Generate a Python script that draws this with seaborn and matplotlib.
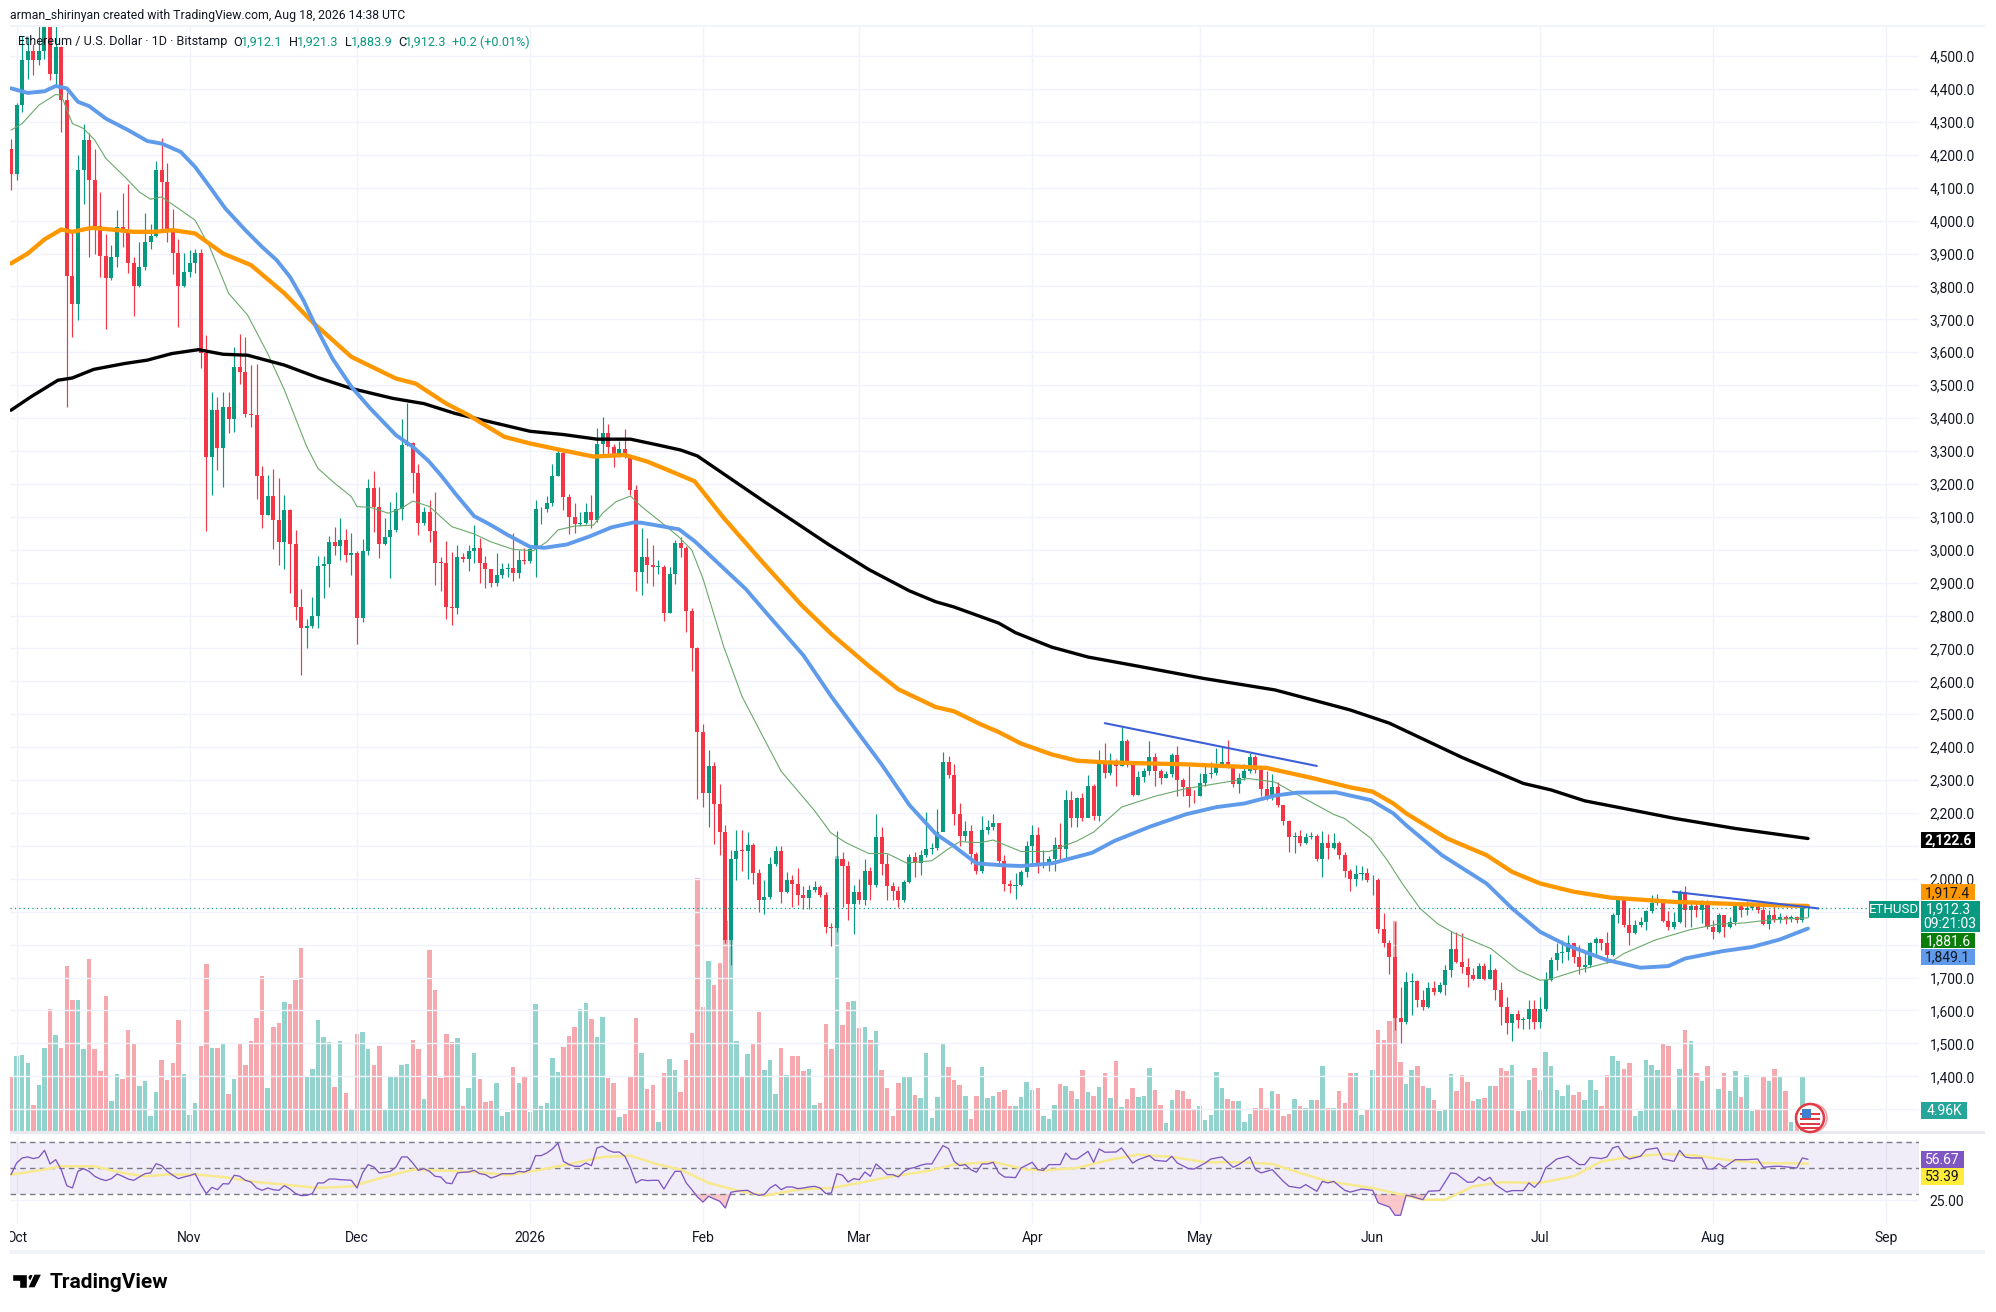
import matplotlib
matplotlib.use("Agg")
import matplotlib.pyplot as plt
from matplotlib.patches import Rectangle, Circle, Polygon
import numpy as np
import pandas as pd
import seaborn as sns

W, H = 1996, 1312

FIRST_OPEN = 4217
# daily candles, first one is Sep 30 (day -1), one row = 10 bars
closes = [
    4143, 4351, 4488, 4515, 4488, 4515, 4610, 4445, 4528, 4366,
    3831, 3746, 4155, 4245, 4123, 3983, 3892, 3827, 3888, 3981,
    3966, 3870, 3801, 3860, 3934, 3953, 4155, 4118, 3976, 3903,
    3801, 3844, 3870, 3903, 3598, 3283, 3425, 3308, 3434, 3396,
    3556, 3540, 3412, 3410, 3224, 3106, 3163, 3090, 3024, 3121,
    3017, 2827, 2761, 2768, 2799, 2950, 2957, 3024, 3012, 3030,
    2984, 2989, 2794, 2996, 3187, 3131, 3017, 3038, 3060, 3123,
    3318, 3325, 3234, 3082, 3116, 3058, 2961, 2960, 2827, 2822,
    2977, 2973, 2997, 3004, 2961, 2943, 2898, 2923, 2943, 2945,
    2930, 2969, 2965, 3001, 3123, 3123, 3141, 3224, 3295, 3161,
    3100, 3078, 3080, 3116, 3090, 3321, 3354, 3313, 3288, 3305,
    3281, 3181, 2933, 2977, 2954, 2948, 2948, 2809, 2926, 3021,
    3004, 2815, 2700, 2446, 2262, 2343, 2226, 2142, 1815, 2061,
    2086, 2085, 2104, 2017, 1936, 1945, 2044, 2086, 1960, 1996,
    1985, 1952, 1941, 1966, 1974, 1952, 1855, 1850, 2061, 2040,
    1925, 1960, 1936, 2023, 1982, 2126, 2044, 1979, 1963, 1936,
    1990, 2066, 2048, 2072, 2090, 2093, 2142, 2354, 2316, 2196,
    2131, 2144, 2077, 2023, 2148, 2158, 2169, 2055, 1985, 1979,
    1982, 2021, 2099, 2134, 2039, 2044, 2061, 2104, 2090, 2240,
    2186, 2245, 2186, 2283, 2191, 2359, 2321, 2359, 2343, 2419,
    2348, 2256, 2310, 2327, 2370, 2327, 2305, 2319, 2375, 2299,
    2278, 2253, 2251, 2292, 2318, 2321, 2348, 2354, 2343, 2289,
    2305, 2327, 2370, 2332, 2272, 2245, 2278, 2223, 2175, 2126,
    2129, 2110, 2126, 2131, 2061, 2110, 2093, 2110, 2072, 2023,
    2001, 2016, 2018, 1996, 1998, 1849, 1804, 1763, 1576, 1564,
    1687, 1690, 1633, 1611, 1667, 1657, 1677, 1723, 1788, 1748,
    1733, 1707, 1697, 1735, 1697, 1723, 1662, 1611, 1561, 1588,
    1570, 1574, 1606, 1566, 1606, 1692, 1753, 1775, 1778, 1804,
    1763, 1731, 1738, 1804, 1817, 1804, 1768, 1890, 1940, 1859,
    1834, 1859, 1869, 1902, 1927, 1929, 1873, 1854, 1869, 1961,
    1905, 1917, 1905, 1930, 1854, 1839, 1890, 1854, 1869, 1920,
    1906, 1910, 1920, 1905, 1864, 1890, 1875, 1883, 1878, 1883,
    1875, 1912.1, 1912.3,
]
highs = [
    4247, 4356, 4560, 4558, 4538, 4590, 4660, 4640, 4600, 4530,
    4390, 3970, 4199, 4295, 4265, 4217, 4087, 3960, 3925, 4032,
    4085, 4111, 3890, 3935, 4022, 3990, 4180, 4250, 4174, 4034,
    3945, 3903, 3910, 3915, 3915, 3652, 3480, 3465, 3480, 3480,
    3617, 3657, 3645, 3561, 3564, 3255, 3227, 3245, 3218, 3166,
    3125, 3060, 2881, 2790, 2857, 2981, 2981, 3042, 3070, 3097,
    3062, 3050, 2995, 3032, 3214, 3239, 3192, 3095, 3146, 3176,
    3396, 3447, 3328, 3262, 3130, 3150, 3174, 2979, 3027, 2992,
    3014, 2990, 3014, 3075, 3035, 2980, 2920, 2989, 2959, 2960,
    3050, 2999, 3004, 3009, 3151, 3131, 3163, 3262, 3305, 3300,
    3170, 3141, 3116, 3143, 3166, 3371, 3404, 3382, 3320, 3331,
    3366, 3285, 3197, 3065, 3035, 3014, 2970, 2953, 2948, 3030,
    3040, 3010, 2822, 2705, 2470, 2390, 2354, 2289, 2164, 2088,
    2148, 2148, 2142, 2110, 2030, 1996, 2066, 2101, 2099, 2021,
    2012, 2034, 1979, 1982, 1992, 1980, 1960, 1865, 2145, 2082,
    2055, 1982, 2000, 2061, 2035, 2196, 2158, 2077, 1990, 1979,
    1996, 2077, 2082, 2088, 2202, 2110, 2213, 2384, 2373, 2348,
    2229, 2175, 2164, 2082, 2191, 2180, 2196, 2166, 2072, 1996,
    2017, 2028, 2115, 2164, 2158, 2088, 2070, 2126, 2169, 2270,
    2267, 2250, 2261, 2316, 2289, 2392, 2413, 2381, 2365, 2462,
    2424, 2354, 2327, 2337, 2419, 2381, 2335, 2327, 2381, 2403,
    2305, 2343, 2270, 2321, 2348, 2354, 2397, 2403, 2422, 2348,
    2321, 2348, 2383, 2375, 2343, 2327, 2318, 2294, 2223, 2180,
    2142, 2148, 2140, 2142, 2137, 2144, 2137, 2140, 2115, 2082,
    2029, 2041, 2039, 2032, 2012, 2003, 1895, 1815, 1870, 1672,
    1716, 1715, 1692, 1662, 1687, 1689, 1687, 1738, 1842, 1839,
    1834, 1758, 1728, 1745, 1743, 1773, 1728, 1687, 1642, 1590,
    1601, 1581, 1631, 1631, 1642, 1717, 1763, 1804, 1814, 1829,
    1804, 1799, 1778, 1809, 1824, 1815, 1839, 1895, 1945, 1930,
    1910, 1875, 1885, 1905, 1950, 1954, 1940, 1902, 1900, 1966,
    1978, 1930, 1933, 1935, 1935, 1875, 1895, 1890, 1885, 1925,
    1913, 1933, 1927, 1930, 1930, 1905, 1923, 1895, 1890, 1890,
    1887, 1915, 1921.3,
]
lows = [
    4093, 4123, 4330, 4430, 4442, 4472, 4490, 4427, 4412, 4270,
    3434, 3647, 3697, 4050, 3890, 3900, 3829, 3672, 3821, 3860,
    3920, 3841, 3710, 3797, 3850, 3915, 3950, 3970, 3935, 3837,
    3677, 3797, 3830, 3840, 3551, 3058, 3166, 3242, 3192, 3356,
    3359, 3505, 3404, 3372, 3153, 3067, 3106, 3002, 2954, 2943,
    2869, 2786, 2619, 2700, 2761, 2761, 2854, 2888, 2984, 2970,
    2964, 2923, 2713, 2781, 2984, 3055, 2974, 3014, 2913, 3055,
    3090, 3315, 3171, 3045, 3075, 3024, 2893, 2876, 2789, 2771,
    2805, 2964, 2936, 2960, 2898, 2883, 2888, 2891, 2913, 2918,
    2906, 2915, 2956, 2959, 2918, 3078, 3116, 3133, 3224, 3121,
    3048, 3050, 3072, 3078, 3065, 3085, 3281, 3281, 3252, 3283,
    3278, 3166, 2876, 2864, 2900, 2890, 2925, 2784, 2809, 2896,
    2979, 2751, 2632, 2244, 2218, 2158, 2107, 2072, 1806, 1738,
    1996, 2023, 2001, 1985, 1898, 1893, 1940, 2039, 1927, 1958,
    1914, 1920, 1909, 1909, 1960, 1945, 1836, 1797, 1838, 1915,
    1876, 1833, 1925, 1920, 1936, 1974, 2012, 1936, 1936, 1914,
    1931, 1988, 2007, 2012, 2066, 2077, 2088, 2169, 2305, 2164,
    2099, 2115, 2044, 2015, 2017, 2137, 2148, 2044, 1963, 1958,
    1938, 1977, 2007, 2039, 2017, 2034, 2023, 2023, 2061, 2061,
    2158, 2158, 2175, 2240, 2180, 2175, 2305, 2316, 2283, 2343,
    2340, 2251, 2256, 2294, 2316, 2283, 2289, 2305, 2310, 2251,
    2251, 2218, 2229, 2253, 2283, 2305, 2316, 2343, 2337, 2278,
    2261, 2299, 2321, 2321, 2251, 2240, 2240, 2218, 2164, 2083,
    2079, 2100, 2105, 2120, 2055, 2007, 2061, 2090, 2061, 2007,
    1964, 1978, 1998, 1991, 1950, 1834, 1793, 1712, 1540, 1500,
    1560, 1586, 1611, 1601, 1608, 1647, 1652, 1647, 1702, 1743,
    1713, 1670, 1692, 1702, 1694, 1697, 1633, 1555, 1530, 1508,
    1548, 1545, 1545, 1545, 1548, 1599, 1690, 1723, 1743, 1753,
    1743, 1710, 1717, 1733, 1773, 1783, 1743, 1765, 1865, 1854,
    1799, 1832, 1854, 1844, 1897, 1920, 1870, 1844, 1849, 1866,
    1854, 1854, 1885, 1865, 1849, 1816, 1835, 1822, 1850, 1860,
    1885, 1890, 1905, 1895, 1860, 1849, 1868, 1865, 1862, 1870,
    1865, 1868, 1883.9,
]
# read as bar height on the chart, last one is the 4.96K label
volumes = [
    164, 228, 231, 206, 81, 141, 252, 369, 291, 252,
    498, 396, 396, 249, 519, 249, 183, 408, 93, 174,
    159, 306, 264, 138, 153, 48, 120, 216, 156, 207,
    336, 174, 51, 87, 258, 504, 252, 252, 264, 114,
    159, 267, 201, 273, 342, 468, 132, 315, 327, 390,
    384, 456, 552, 165, 189, 336, 285, 270, 135, 273,
    117, 69, 294, 300, 249, 201, 258, 69, 165, 168,
    201, 204, 276, 249, 99, 546, 426, 162, 294, 270,
    282, 78, 132, 237, 159, 90, 93, 147, 48, 60,
    195, 147, 168, 60, 384, 78, 87, 222, 180, 255,
    288, 315, 369, 387, 339, 285, 345, 162, 147, 45,
    54, 168, 342, 237, 129, 141, 30, 177, 219, 186,
    120, 216, 297, 762, 375, 513, 441, 507, 633, 596,
    273, 168, 234, 267, 360, 186, 216, 114, 252, 171,
    228, 228, 183, 189, 81, 87, 324, 249, 828, 321,
    390, 393, 312, 315, 276, 303, 186, 132, 48, 147,
    165, 165, 111, 102, 237, 42, 105, 267, 195, 156,
    141, 108, 39, 108, 195, 102, 108, 120, 126, 78,
    78, 106, 151, 126, 131, 48, 38, 81, 144, 138,
    123, 99, 186, 120, 108, 135, 177, 102, 213, 76,
    99, 133, 106, 108, 192, 126, 81, 28, 96, 126,
    123, 99, 68, 78, 36, 51, 180, 132, 99, 93,
    93, 30, 54, 72, 132, 72, 123, 114, 48, 54,
    99, 78, 72, 96, 96, 198, 72, 72, 123, 88,
    178, 178, 51, 66, 186, 306, 276, 334, 634, 209,
    145, 187, 199, 137, 132, 97, 64, 65, 175, 122,
    172, 149, 92, 99, 102, 139, 139, 192, 182, 202,
    62, 62, 157, 192, 125, 239, 199, 125, 107, 142,
    112, 119, 97, 157, 127, 79, 172, 229, 212, 189,
    207, 49, 62, 217, 202, 187, 265, 257, 69, 189,
    307, 272, 177, 152, 199, 69, 129, 177, 122, 184,
    105, 172, 62, 65, 167, 152, 189, 169, 122, 30,
    57, 164, 63,
]

ma200_days = [-1, 2.6, 7.4, 10, 13.8, 19.4, 23.4, 27.8, 32.6, 37, 41.4, 48, 54, 60, 67.4, 73, 78.6, 85, 92, 98, 104, 110,
              115, 119, 122, 127, 134, 145.5, 152.7, 160, 164.7, 168, 176, 179, 185.5, 192, 200.7, 212.7, 225.5, 233.5,
              239, 246, 259, 270, 275, 281, 288, 297, 308, 321]
ma200 = [3424, 3465, 3515, 3522, 3548, 3566, 3576, 3596, 3608, 3594, 3591, 3561, 3523, 3490, 3460, 3444, 3414, 3388, 3360,
         3350, 3336, 3336, 3318, 3303, 3285, 3227, 3146, 3016, 2940, 2875, 2842, 2826, 2777, 2748, 2704, 2674, 2647, 2609,
         2574, 2538, 2513, 2473, 2369, 2290, 2270, 2237, 2214, 2184, 2153, 2122.6]
ma100_days = [-1, 2, 5, 8, 10, 13.4, 17, 21, 24.6, 28, 32, 37, 42, 48, 53, 60, 68, 71.5, 77, 81, 87.4, 92, 97, 103.4, 109,
              113, 118, 121.5, 126.7, 134, 140.7, 146, 152.7, 158, 164.7, 168, 172.7, 176, 180, 185.5, 190, 195, 209.5,
              224, 232, 239, 243, 246.7, 249, 256.3, 263.4, 268, 273, 279, 285.6, 297, 309, 321]
ma100 = [3870, 3900, 3943, 3973, 3966, 3978, 3973, 3966, 3966, 3971, 3961, 3900, 3865, 3779, 3692, 3586, 3520, 3505, 3444,
         3409, 3343, 3323, 3305, 3283, 3288, 3268, 3233, 3208, 3097, 2956, 2831, 2744, 2647, 2576, 2522, 2509, 2470, 2446,
         2411, 2378, 2359, 2354, 2348, 2337, 2307, 2278, 2265, 2229, 2199, 2123, 2072, 2021, 1986, 1961, 1943, 1930, 1923,
         1917.4]
ma50_days = [-1, 2, 5, 7, 9, 11, 13, 16, 20, 23.4, 26, 29.4, 32, 34.6, 37.4, 41, 44, 46.6, 49, 51.4, 53.8, 56.6, 60, 63.4,
             68, 71, 73.8, 76, 78.6, 82, 85, 88, 92, 94.6, 98.6, 102.6, 106.6, 110.6, 112, 115.4, 118.7, 121.5, 126.3,
             130.7, 134.3, 141, 146, 150.7, 155, 160, 164.7, 168, 172, 176.8, 180, 185.5, 192.7, 196.7, 203, 209.5, 215,
             220, 225.5, 229.5, 236.4, 242.7, 246.7, 249, 255.4, 263.4, 268, 273, 277.7, 285, 291, 296, 299, 305.6, 311,
             316, 321]
ma50 = [4402, 4388, 4393, 4409, 4402, 4361, 4348, 4310, 4275, 4242, 4234, 4209, 4163, 4103, 4037, 3971, 3920, 3880, 3829,
        3758, 3672, 3581, 3495, 3429, 3348, 3313, 3270, 3227, 3171, 3102, 3075, 3045, 3009, 3006, 3016, 3040, 3068, 3083,
        3082, 3072, 3062, 3026, 2950, 2880, 2809, 2679, 2554, 2446, 2348, 2224, 2137, 2099, 2047, 2041, 2039, 2047, 2079,
        2115, 2158, 2196, 2218, 2229, 2253, 2262, 2263, 2239, 2199, 2163, 2072, 1986, 1910, 1839, 1799, 1753, 1730, 1735,
        1758, 1780, 1793, 1816, 1849.1]
ma20_days = [-1, 1, 4, 7, 8, 10, 12, 14, 16, 19.4, 22, 24, 26, 29, 32, 34.6, 38, 41.4, 45, 48, 52, 54, 57, 60, 61, 63.4,
             66.6, 69, 71, 74, 78, 82, 85, 89, 92.6, 95, 97, 100, 103.4, 105, 107.4, 110, 112, 115.4, 118.6, 121, 123,
             126.7, 130, 134, 137, 143, 145.9, 148.6, 152.7, 156, 159.5, 164, 166.7, 169, 172.7, 175, 180, 185, 190, 193,
             198, 204, 209.5, 216.7, 220.7, 225.5, 229.5, 236, 238, 242.7, 245.6, 248.3, 251.5, 254.6, 257.5, 264.2, 269,
             273, 274.6, 280, 285.7, 288, 293.6, 300, 304.8, 309.5, 314, 321]
ma20 = [4275, 4295, 4351, 4383, 4381, 4295, 4280, 4245, 4189, 4133, 4087, 4065, 4072, 4037, 4001, 3920, 3779, 3713, 3596,
        3485, 3313, 3247, 3202, 3161, 3131, 3129, 3111, 3126, 3148, 3131, 3070, 3048, 3024, 3001, 2997, 3024, 3060, 3072,
        3075, 3111, 3146, 3163, 3131, 3085, 3040, 2999, 2912, 2706, 2554, 2424, 2327, 2207, 2140, 2110, 2077, 2077, 2048,
        2055, 2088, 2113, 2110, 2118, 2083, 2083, 2115, 2142, 2218, 2251, 2274, 2294, 2305, 2294, 2256, 2196, 2183, 2123,
        2057, 1986, 1910, 1864, 1836, 1788, 1723, 1692, 1694, 1723, 1748, 1773, 1814, 1846, 1862, 1866, 1875, 1881.6]

trend_days = [[195, 233], [296.8, 322.9]]
trend_prices = [[2473, 2343], [1961, 1910]]

rsi_days = list(range(-1, 177)) + [
    177, 179, 180, 182, 183, 184, 185, 187, 188, 189, 190, 192, 193, 194, 195, 197, 198, 200, 201, 203, 204, 206, 207,
    208, 210, 211, 213, 214, 216, 218, 219, 221, 222, 223, 225, 227, 228, 230, 231, 233, 234, 235, 236, 238, 239, 241,
    243, 244, 246, 247, 248, 249, 250, 252, 253, 255, 257, 258, 260, 261, 262, 263, 264, 265, 267, 268, 270, 271, 272,
    273, 274, 276, 278, 280, 281, 282, 284, 285, 286, 287, 288, 289, 291, 292, 294, 295, 297, 298, 299, 300, 302, 303,
    304, 305, 306, 308, 310, 312, 313, 315, 316, 319, 320, 321]
rsi_vals = [
    44.9, 53.8, 57.7, 58.5, 57.2, 58.2, 63.6, 53.1, 56.4, 48.7, 36.4, 34.6, 47.4, 49.5, 47.4, 43.6, 41.5, 40.3, 41.8, 45.4,
    43.6, 41.5, 40.5, 43.1, 45.6, 46.2, 53.3, 51.8, 47.4, 44.4, 41.8, 43.1, 44.1, 45.6, 37.2, 30.3, 35.1, 33.3, 37.9, 37.7,
    44.4, 43.6, 40.5, 39.2, 34.6, 32.8, 34.6, 33.3, 32.8, 36.4, 33.8, 30.3, 28.7, 29.0, 30.3, 38.5, 38.5, 41.5, 41.5, 41.0,
    40.8, 40.5, 34.6, 46.2, 52.6, 50.8, 46.2, 46.7, 47.4, 50.8, 58.5, 58.5, 53.8, 48.2, 49.5, 47.4, 43.6, 43.1, 38.5, 37.9,
    46.2, 46.7, 46.9, 48.2, 45.6, 44.9, 42.3, 43.6, 45.6, 45.6, 45.6, 47.4, 46.9, 48.7, 59.5, 59.5, 61.5, 64.6, 69.2, 55.1,
    52.6, 51.3, 51.3, 53.8, 51.8, 65.4, 66.7, 63.6, 62.1, 62.3, 59.0, 50.0, 38.5, 41.0, 40.3, 40.5, 40.5, 33.8, 41.0, 47.4,
    47.4, 38.5, 33.3, 27.7, 23.8, 28.2, 26.2, 24.4, 19.2, 31.3, 32.1, 32.6, 32.8, 30.3, 29.0, 29.5, 34.6, 37.2, 33.3, 35.4,
    35.4, 34.1, 34.6, 35.4, 35.9, 34.6, 30.3, 30.8, 45.6, 44.4, 39.2, 41.8, 41.0, 46.9, 43.6, 53.1, 49.5, 44.9, 44.9, 43.1,
    47.4, 49.5, 50.5, 52.1, 53.1, 53.1, 60.3, 67.2, 64.9, 55.1, 51.8, 52.6, 48.7, 46.7, 53.1, 53.1, 54.4, 46.2,
    43.1, 42.6, 50.0, 54.4, 48.7, 48.2, 52.6, 52.6, 61.5, 56.9, 56.9, 62.8, 54.4, 64.6, 62.1, 62.3, 65.4, 53.8, 56.4, 59.5,
    55.9, 55.1, 59.0, 53.8, 49.5, 49.2, 53.8, 56.9, 58.5, 50.5, 52.6, 58.5, 48.7, 46.2, 48.7, 39.7, 35.9, 34.6, 37.2, 32.1,
    39.7, 38.5, 39.7, 32.8, 31.5, 33.8, 32.8, 23.1, 20.0, 13.6, 13.6, 29.0, 28.2, 25.6, 32.1, 32.6, 46.2, 45.6, 39.0, 39.2,
    43.1, 40.3, 42.8, 37.2, 31.5, 32.6, 32.6, 38.5, 35.1, 39.7, 50.0, 56.9, 59.0, 52.6, 52.6, 58.2, 57.2, 58.5, 65.4, 66.7,
    59.5, 56.9, 59.0, 64.1, 65.4, 56.9, 55.1, 63.6, 58.5, 57.7, 57.7, 49.2, 49.2, 53.3, 50.5, 56.4, 56.4, 56.9, 50.5, 51.3,
    51.3, 50.0, 57.7, 56.67]
rsi_ma_days = [-1, 3, 8, 14, 19, 23, 27, 32, 37, 43, 48, 54, 60, 66, 71, 77, 83, 88, 94, 100, 105, 110, 115, 119, 124, 129,
               134, 140, 146, 151, 157, 163, 168, 175, 181, 184, 190, 196, 201, 207, 213, 220, 225, 230, 235, 243, 249,
               252, 256, 261, 266, 273, 279, 284, 290, 296, 301, 307, 313, 321]
rsi_ma = [44.9, 47.4, 51.3, 51.3, 46.2, 43.6, 44.9, 44.9, 43.1, 39.2, 37.2, 34.6, 35.9, 43.1, 48.7, 47.9, 46.7, 44.4, 48.7,
          53.8, 58.5, 59.5, 52.6, 48.7, 38.5, 32.8, 28.7, 33.3, 34.6, 38.5, 43.6, 47.4, 52.6, 54.6, 48.7, 48.2, 50.0, 56.4,
          60.3, 58.5, 54.4, 54.4, 53.1, 46.2, 39.7, 34.6, 28.7, 25.6, 25.6, 35.9, 39.0, 38.5, 43.6, 55.1, 59.0, 60.8, 59.5,
          55.9, 53.8, 53.39]

price_ticks = list(range(1300, 4600, 100))
# these sit behind the price boxes on the right
hidden_ticks = [1300, 1800, 1900, 2100]
month_days = [0, 31, 61, 92, 123, 151, 182, 212, 243, 273, 304, 335]
month_labels = ["Oct", "Nov", "Dec", "2026", "Feb", "Mar", "Apr", "May", "Jun", "Jul", "Aug", "Sep"]

UP = "#089981"
DOWN = "#f23645"
GRID = "#f0f3fa"
TEXT = "#131722"


def rect(left, top, right, bottom):
    return [left / W, 1 - bottom / H, (right - left) / W, (bottom - top) / H]


def line(axis, xs, ys, color, lw, **kw):
    sns.lineplot(x=xs, y=ys, ax=axis, color=color, linewidth=lw, estimator=None, sort=False, **kw)


sns.set_theme(style="white")
plt.rcParams["font.family"] = ["Roboto", "DejaVu Sans"]

days = np.arange(-1, -1 + len(closes))
opens = np.array([FIRST_OPEN] + closes[:-1])
closes_arr = np.array(closes)
is_up = closes_arr >= opens
df = pd.DataFrame({"day": days, "vol": volumes, "dir": np.where(is_up, "up", "down")})

fig = plt.figure(figsize=(W / 100, H / 100), dpi=100, facecolor="white")

# volume sits below the candles, in its own axes
ax_vol = fig.add_axes(rect(10, 26, 1919, 1132))
sns.barplot(data=df, x="day", y="vol", hue="dir", ax=ax_vol, native_scale=True, dodge=False, width=0.8,
            palette={"up": "#93d3cd", "down": "#f5a9ae"}, saturation=1, legend=False, linewidth=0)
ax_vol.set_ylim(0, 3318)
ax_vol.axis("off")

ax = fig.add_axes(rect(10, 26, 1919, 1132), sharex=ax_vol)
ax.patch.set_alpha(0)
ax.vlines(days, lows, highs, colors=np.where(is_up, UP, DOWN), linewidth=0.85)
ax.bar(days, np.maximum(np.abs(closes_arr - opens), 2), bottom=np.minimum(closes_arr, opens), width=0.72,
       color=np.where(is_up, UP, DOWN), linewidth=0)
line(ax, ma20_days, ma20, "#6aa96a", 0.8)
line(ax, ma200_days, ma200, "black", 2.4)
line(ax, ma100_days, ma100, "#ff9800", 3.1)
line(ax, ma50_days, ma50, "#5f9bea", 2.8)
for xs, ys in zip(trend_days, trend_prices):
    line(ax, xs, ys, "#3b5fd8", 1.5)
ax.axhline(1912.3, color=UP, lw=0.9, ls=(0, (1, 2.5)))

ax.set_ylim(1230.8, 4591.4)
ax.set_xlim(-1.18, 340.9)
ax.set_yticks(price_ticks)
ax.set_yticklabels(["" if p in hidden_ticks else f"{p:,.1f}" for p in price_ticks])
ax.yaxis.tick_right()
ax.tick_params(axis="y", length=0, pad=7.5, labelsize=10, labelcolor=TEXT)
ax.set_xticks(month_days)
ax.tick_params(axis="x", length=0, labelbottom=False)
ax.grid(True, color=GRID, lw=1)
ax.set_axisbelow(True)
ax.set_xlabel("")
ax.set_ylabel("")
for s in ax.spines.values():
    s.set_visible(False)

# RSI pane
ax_rsi = fig.add_axes(rect(10, 1136, 1919, 1224))
ax_rsi.axhspan(30, 70, color="#7e57c2", alpha=0.1, lw=0)
for level in [70, 50, 30]:
    ax_rsi.axhline(level, color="#787b86", lw=1, ls=(0, (4, 3)))
line(ax_rsi, rsi_ma_days, rsi_ma, "#f7e98e", 1.8)
line(ax_rsi, rsi_days, rsi_vals, "#7e57c2", 0.95)
rsi_arr = np.array(rsi_vals)
ax_rsi.fill_between(rsi_days, rsi_arr, 30, where=rsi_arr < 30, interpolate=True, color="#f9b9bf", alpha=0.8, lw=0)
ax_rsi.set_ylim(6.9, 74.6)
ax_rsi.set_xlim(-1.18, 340.9)
ax_rsi.set_yticks([25])
ax_rsi.set_yticklabels(["25.00"])
ax_rsi.yaxis.tick_right()
ax_rsi.tick_params(axis="y", length=0, pad=7.5, labelsize=10, labelcolor=TEXT)
ax_rsi.set_xticks(month_days)
ax_rsi.set_xticklabels(month_labels)
ax_rsi.tick_params(axis="x", length=0, pad=5, labelsize=10, labelcolor=TEXT)
ax_rsi.grid(True, color=GRID, lw=1)
ax_rsi.set_axisbelow(True)
ax_rsi.set_xlabel("")
ax_rsi.set_ylabel("")
for s in ax_rsi.spines.values():
    s.set_visible(False)

# everything drawn on top of the panes works in screen pixels
ov = fig.add_axes([0, 0, 1, 1], zorder=10)
ov.set_xlim(0, W)
ov.set_ylim(H, 0)
ov.axis("off")
ov.patch.set_alpha(0)


def box(left, top, right, bottom, color):
    ov.add_patch(Rectangle((left, top), right - left, bottom - top, facecolor=color, edgecolor="none"))


def label(x, y, s, color=TEXT, size=10, ha="left", weight="normal"):
    ov.text(x, y, s, color=color, fontsize=size, ha=ha, va="center", fontweight=weight)


# frame
box(10, 25, 1985, 27, GRID)
box(10, 1131, 1985, 1133.5, "#e8eaf0")
box(10, 1250, 1985, 1254, GRID)
box(0, 1228, 10, 1250, "white")

label(10, 15, "arman_shirinyan created with TradingView.com, Aug 18, 2026 14:38 UTC", size=8.8)
label(18, 42, "Ethereum / U.S. Dollar · 1D · Bitstamp", size=9.1)
for x, name, x_val, val in [(233, "O", 241, "1,912.1"), (289, "H", 297, "1,921.3"), (345, "L", 351, "1,883.9"),
                            (398, "C", 405, "1,912.3")]:
    label(x, 42, name, size=9.1)
    label(x_val, 42, val, color=UP, size=9.1)
label(452, 42, "+0.2 (+0.01%)", color=UP, size=9.1)

# right hand price boxes
box(1921, 832, 1975, 848, "black")
label(1948, 840.5, "2,122.6", color="white", ha="center", weight="bold")
box(1921, 884, 1975, 900, "#ff9800")
label(1948, 893, "1,917.4", color=TEXT, ha="center")
box(1869, 901, 1919, 918, UP)
label(1894, 909.5, "ETHUSD", color="white", ha="center", size=9.5)
box(1921, 901, 1980, 932, UP)
label(1948, 909, "1,912.3", color="white", ha="center")
label(1950, 924, "09:21:03", color="white", ha="center")
box(1921, 933, 1975, 948, "#0a7d0a")
label(1948, 941, "1,881.6", color="white", ha="center")
box(1921, 949, 1975, 965, "#5f9bea")
label(1948, 957.5, "1,849.1", color=TEXT, ha="center")
box(1921, 1102, 1967, 1119, "#26a69a")
label(1944, 1111, "4.96K", color="white", ha="center")
box(1921, 1151, 1964, 1168, "#7e57c2")
label(1942.5, 1160, "56.67", color="white", ha="center")
box(1921, 1168, 1964, 1185, "#ffeb3b")
label(1942.5, 1177, "53.39", color=TEXT, ha="center")

# news flag marker on the last bars
ov.add_patch(Circle((1813, 1118), 14, facecolor="white", edgecolor="#f4a0a6", lw=1.2))
ov.add_patch(Circle((1810, 1118), 14, facecolor="white", edgecolor="#e23a45", lw=1.8))
for y_stripe in [1113, 1118, 1123, 1127]:
    box(1800, y_stripe, 1820, y_stripe + 2, "#e23a45")
box(1802, 1109, 1811, 1118, "#3f7fd0")

# logo
ov.add_patch(Polygon([(12, 1274), (27, 1274), (27, 1288), (19, 1288), (19, 1281), (12, 1281)], facecolor="black"))
ov.add_patch(Circle((31, 1277.5), 3.2, facecolor="black"))
ov.add_patch(Polygon([(34, 1274), (42, 1274), (35, 1288), (27.5, 1288)], facecolor="black"))
label(50, 1282, "TradingView", color="black", size=15, weight="bold")

plt.savefig("out.png", dpi=100)
